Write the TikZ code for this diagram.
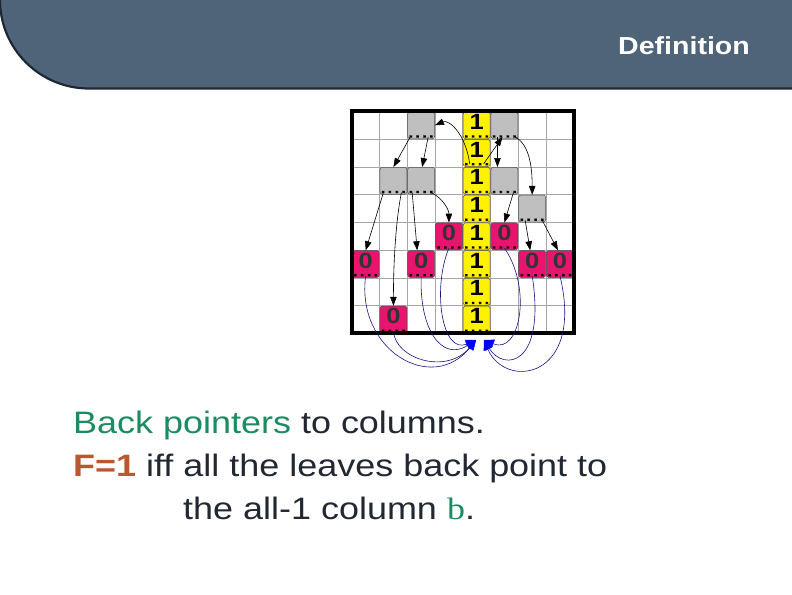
\documentclass[tikz,border=0pt]{standalone}
\usepackage{fontspec}
\setmainfont{Liberation Sans}
\newfontfamily\seriffont{Liberation Serif}
\usetikzlibrary{arrows.meta,calc}

\newcommand{\wide}[1]{\scalebox{1.16}[1]{#1}}

\begin{document}
\begin{tikzpicture}[x=1pt,y=-1pt,
  cellbox/.style={draw=black!70, line width=0.5pt, rounded corners=2.5pt,
    minimum width=27pt, minimum height=27pt, inner sep=0pt,
    font=\bfseries\fontsize{22}{22}\selectfont, text depth=7pt,
    path picture={\foreach \f in {0.12,0.37,0.63,0.88}
      \fill[black] ([yshift=2.3pt]$(path picture bounding box.south west)!\f!(path picture bounding box.south east)$)
        +(-1.2pt,-1.2pt) rectangle +(1.2pt,1.2pt);}},
  onebox/.style={cellbox, fill=yellow},
  zerobox/.style={cellbox, fill=leafpink, text=black!80},
  gatebox/.style={cellbox, fill=black!25},
  gridline/.style={draw=black!35, line width=0.8pt},
  ptr/.style={-{Triangle[length=9pt,width=6.5pt]}, line width=0.6pt},
  backptr/.style={-{Triangle[length=10pt,width=9pt,color=blue]}, line width=0.6pt, draw=navyline},
  body/.style={anchor=base west, inner sep=0pt, text=txt, font=\fontsize{31}{31}\selectfont}]

  \definecolor{headblue}{RGB}{79,99,121}
  \definecolor{headline}{RGB}{30,40,52}
  \definecolor{leafpink}{RGB}{232,20,110}
  \definecolor{bpgreen}{RGB}{26,140,96}
  \definecolor{fbrown}{RGB}{185,88,46}
  \definecolor{txt}{RGB}{34,40,50}
  \definecolor{navyline}{RGB}{20,20,130}

  \useasboundingbox (0,0) rectangle (792,594);

  % Title bar
  \fill[headblue] (0,0) -- (792,0) -- (792,88.5) -- (89,88.5) .. controls (40,88.5) and (0,49) .. (0,0) -- cycle;
  \draw[headline, line width=2.2pt] (0,0) .. controls (0,49) and (40,88.5) .. (89,88.5) -- (792,88.5);
  \node[anchor=base east, inner sep=0pt, text=white, font=\bfseries\fontsize{24.6}{24.6}\selectfont]
    (title) at (750,54.5) {\wide{Definition}};

  % Grid of cells
  \begin{scope}[shift={(351.8,111.4)}, x=27.75pt, y=-27.75pt]
    \foreach \i in {1,...,7} {
      \draw[gridline] (\i,0) -- (\i,8);
      \draw[gridline] (0,\i) -- (8,\i);
    }
    % the all-1 column
    \foreach \r in {0,...,7}
      \node[onebox] (b\r) at (4.5,\r+.5) {\wide{1}};
    % inner gates
    \foreach \r/\c in {0/2,0/5,2/1,2/2,2/5,3/6}
      \node[gatebox] (g\r\c) at (\c+.5,\r+.5) {};
    % leaves
    \foreach \r/\c in {4/3,4/5,5/0,5/2,5/6,5/7,7/1}
      \node[zerobox] (z\r\c) at (\c+.5,\r+.5) {\wide{0}};
    \draw[line width=4pt] (0,0) rectangle (8,8);
  \end{scope}

  % Pointers down the tree
  \draw[ptr] ([xshift=-7pt,yshift=3pt]b1.south) .. controls +(-4,-30) and +(14,-6) .. (g02.east);
  \draw[ptr] ([xshift=7pt,yshift=3pt]b1.south) -- ([xshift=-2pt,yshift=2pt]g05.south);
  \draw[ptr] ([xshift=-7pt,yshift=2pt]g05.south) -- ([xshift=-7pt]g25.north);
  \draw[ptr] ([xshift=11pt,yshift=2pt]g05.south) .. controls +(14,8) and +(0,-28) .. (g36.north);
  \draw[ptr] ([xshift=-11pt,yshift=2pt]g02.south) -- (g21.north);
  \draw[ptr] ([xshift=7pt,yshift=2pt]g02.south) -- ([xshift=1pt]g22.north);
  \draw[ptr] ([xshift=-10pt,yshift=2pt]g21.south) -- (z50.north);
  \draw[ptr] ([xshift=8pt,yshift=2pt]g21.south) .. controls +(-6,30) and +(0,-40) .. (z71.north);
  \draw[ptr] ([xshift=-9pt,yshift=2pt]g22.south) -- ([xshift=-4pt]z52.north);
  \draw[ptr] ([xshift=9pt,yshift=2pt]g22.south) .. controls +(10,3) and +(0,-14) .. (z43.north);
  \draw[ptr] ([xshift=9pt,yshift=2pt]g25.south) -- (z45.north);
  \draw[ptr] ([xshift=-7pt,yshift=2pt]g36.south) -- ([xshift=-2pt]z56.north);
  \draw[ptr] ([xshift=10pt,yshift=2pt]g36.south) -- ([xshift=-2pt]z57.north);

  % Back pointers to the column
  \coordinate (col) at (479,340);
  \draw[backptr] ([yshift=2pt]z50.south) .. controls +(-10,74) and +(-44,55) .. ([xshift=-3pt]col);
  \draw[backptr] ([yshift=2pt]z71.south) .. controls +(2,28) and +(-29,35) .. ([xshift=-3pt]col);
  \draw[backptr] ([yshift=2pt]z52.south) .. controls +(-2,54) and +(-34,22) .. ([xshift=-3pt]col);
  \draw[backptr] ([yshift=2pt]z43.south) .. controls +(-17,41) and +(-34,15) .. ([xshift=-3pt]col);
  \draw[backptr] ([yshift=2pt]z45.south) .. controls +(28,41) and +(36,15) .. ([xshift=5pt]col);
  \draw[backptr] ([yshift=2pt]z56.south) .. controls +(14,90) and +(20,32) .. ([xshift=5pt]col);
  \draw[backptr] ([yshift=2pt]z57.south) .. controls +(25,104) and +(21,50) .. ([xshift=5pt]col);
  \node[inner sep=0pt, text=white, font=\bfseries\fontsize{5}{5}\selectfont] (collabel) at (col) {1};

  % Text
  \node[body] (line1) at (73,433) {\wide{\textcolor{bpgreen}{Back pointers} to columns.}};
  \node[body] (line2) at (73,476) {\wide{\textcolor{fbrown}{\bfseries F=1} iff all the leaves back point to}};
  \node[body] (line3) at (183,519) {\wide{the all-1 column {\seriffont\textcolor{bpgreen}{b}}.}};
\end{tikzpicture}
\end{document}
